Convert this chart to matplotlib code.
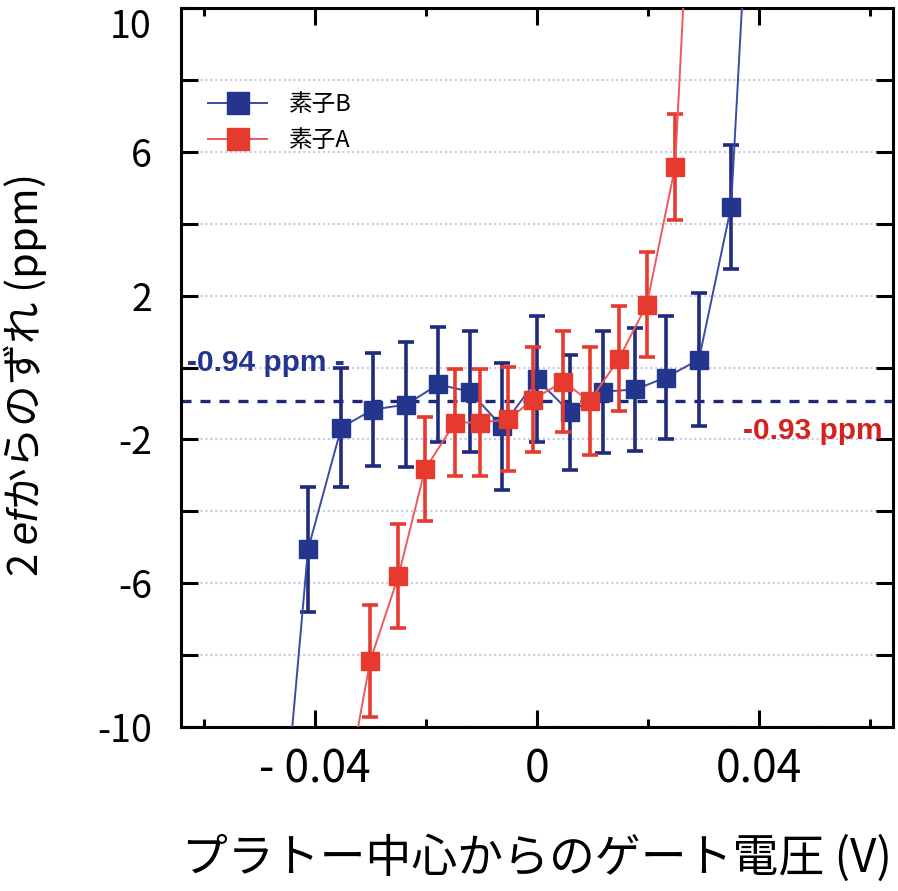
import numpy as np
import matplotlib
matplotlib.use('Agg')
from matplotlib import pyplot as plt
from matplotlib.ticker import FixedLocator, FixedFormatter

plt.rcParams['font.family'] = ['Noto Sans CJK JP', 'DejaVu Sans']
plt.rcParams['mathtext.fontset'] = 'custom'
plt.rcParams['mathtext.it'] = 'Liberation Sans:italic'
plt.rcParams['axes.unicode_minus'] = False

# 素子B (blue)
x_b = [-0.047, -0.0413, -0.0353, -0.0296, -0.0236, -0.0178, -0.0121, -0.0063,
       0.0, 0.006, 0.0119, 0.0177, 0.0232, 0.0292, 0.035, 0.041]
y_b = [-15.0, -5.06, -1.67, -1.17, -1.03, -0.47, -0.67, -1.64,
       -0.33, -1.25, -0.67, -0.61, -0.28, 0.22, 4.47, 21.5]
err_b = [1.7, 1.75, 1.65, 1.58, 1.75, 1.6, 1.68, 1.78,
         1.75, 1.6, 1.7, 1.72, 1.7, 1.85, 1.72, 1.7]

# 素子A (red)
x_a = [-0.035, -0.0301, -0.025, -0.0202, -0.0148, -0.0103, -0.0052, -0.0007,
       0.0047, 0.0095, 0.0148, 0.0198, 0.0249, 0.030]
y_a = [-12.3, -8.17, -5.8, -2.83, -1.53, -1.53, -1.44, -0.89,
       -0.39, -0.94, 0.25, 1.75, 5.58, 21.0]
err_a = [1.5, 1.56, 1.45, 1.45, 1.5, 1.5, 1.45, 1.45,
         1.4, 1.5, 1.45, 1.45, 1.47, 1.5]

mean_level = -0.94
label_b = '-0.94 ppm -'
label_a = '-0.93 ppm'

x_ticks = [-0.04, 0.0, 0.04]
x_ticklabels = ['- 0.04', '0', '0.04']
x_minor = [-0.06, -0.02, 0.02, 0.06]
y_ticks = [-10, -8, -6, -4, -2, 0, 2, 4, 6, 8, 10]
y_ticklabels = ['-10', '', '-6', '', '-2', '', '2', '', '6', '', '10']

blue = '#24358e'
blue_line = '#3b4aa3'
red = '#e63a2e'
red_line = '#ec5a5a'

fig = plt.figure(figsize=(8.98, 8.91), dpi=100)
ax = fig.add_axes([0.2016, 0.184, 0.7928, 0.807])

ax.grid(axis='y', color='#c9cce6', linestyle=(0, (1, 1.2)), linewidth=1.6, zorder=0)

ax.axhline(mean_level, color='#1f2778', linestyle=(0, (3, 2.7)), linewidth=2.4, zorder=1)

ax.errorbar(x_b, y_b, yerr=err_b, fmt='none', ecolor='#1f2b7c', elinewidth=2.6,
            capsize=5.5, capthick=2.6, zorder=2)
ax.plot(x_b, y_b, color=blue_line, lw=1.4, marker='s', ms=13, mfc=blue, mec=blue,
        label='素子B', zorder=3)

ax.errorbar(x_a, y_a, yerr=err_a, fmt='none', ecolor=red, elinewidth=2.6,
            capsize=5.5, capthick=2.6, zorder=4)
ax.plot(x_a, y_a, color=red_line, lw=1.4, marker='s', ms=13, mfc=red, mec=red,
        label='素子A', zorder=5)

ytr = ax.get_yaxis_transform()
ax.text(0.008, -0.11, label_b, transform=ytr, color=blue,
        fontsize=21.5, fontweight='bold', family='Liberation Sans',
        va='baseline', ha='left')
ax.text(0.985, -2.0, label_a, transform=ytr, color='#d4231f',
        fontsize=21.5, fontweight='bold', family='Liberation Sans',
        va='baseline', ha='right')

ax.set_xlim(-0.0642, 0.0642)
ax.set_ylim(-10, 10)

ax.xaxis.set_major_locator(FixedLocator(x_ticks))
ax.xaxis.set_major_formatter(FixedFormatter(x_ticklabels))
ax.xaxis.set_minor_locator(FixedLocator(x_minor))
ax.yaxis.set_major_locator(FixedLocator(y_ticks))
ax.yaxis.set_major_formatter(FixedFormatter(y_ticklabels))

ax.tick_params(which='major', direction='in', length=12, width=2.2,
               top=True, right=True, color='black')
ax.tick_params(which='minor', direction='in', length=6, width=2.2,
               top=True, right=True)
ax.tick_params(axis='x', pad=14, labelsize=32)
ax.tick_params(axis='y', pad=21, labelsize=27)
for s in ax.spines.values():
    s.set_linewidth(2.2)

# top label sits inside the figure
ax.get_yticklabels()[-1].set_verticalalignment('top')

ax.set_xlabel('プラトー中心からのゲート電圧 (V)', fontsize=33, labelpad=30)
ax.set_ylabel('2 $\\mathit{ef}$からのずれ (ppm)', fontsize=30)
ax.yaxis.set_label_coords(-0.185, 0.488)

leg = ax.legend(loc='upper left', bbox_to_anchor=(0.025, 0.895), frameon=False,
                fontsize=17, handlelength=2.5, handletextpad=0.9,
                labelspacing=0.55, borderaxespad=0, markerscale=1.2)

fig.savefig('out.png', dpi=100)
